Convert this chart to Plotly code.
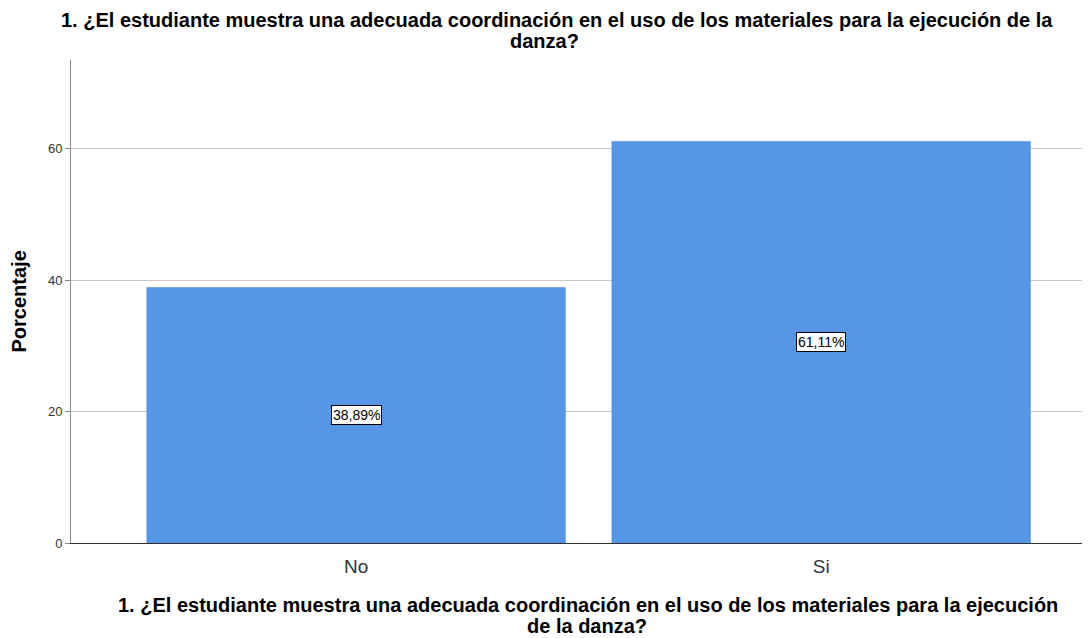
import plotly.graph_objects as go

categories = ["No", "Si"]
percentages = [38.89, 61.11]
label_texts = ["38,89%", "61,11%"]
y_ticks = [0, 20, 40, 60]

title_lines = [
    "1. ¿El estudiante muestra una adecuada coordinación en el uso de los materiales para la ejecución de la",
    "danza?",
]
xtitle_lines = [
    "1. ¿El estudiante muestra una adecuada coordinación en el uso de los materiales para la ejecución",
    "de la danza?",
]
ytitle = "Porcentaje"

FONT = "Liberation Sans, Arial, sans-serif"

fig = go.Figure()
fig.add_trace(go.Bar(
    x=categories, y=percentages, width=0.9,
    marker=dict(color="#5596E6", line=dict(color="#4a86d0", width=0.5)),
    hoverinfo="skip",
))

for c, v, t in zip(categories, percentages, label_texts):
    fig.add_annotation(
        x=c, y=v / 2, text=t, showarrow=False,
        font=dict(family=FONT, size=14, color="black"),
        bgcolor="white", bordercolor="black", borderwidth=1, borderpad=1,
    )

# Title lines (above plot)
for txt, xpos, ypos in zip(title_lines, [0.4774, 0.465], [1.0818, 1.0394]):
    fig.add_annotation(
        text="<b>" + txt + "</b>", xref="paper", yref="paper", x=xpos, y=ypos,
        xanchor="center", yanchor="middle", showarrow=False,
        font=dict(family=FONT, size=20, color="black"),
    )
# X-axis title lines (below plot)
for txt, xpos, ypos in zip(xtitle_lines, [0.507, 0.506], [-0.1284, -0.1718]):
    fig.add_annotation(
        text="<b>" + txt + "</b>", xref="paper", yref="paper", x=xpos, y=ypos,
        xanchor="center", yanchor="middle", showarrow=False,
        font=dict(family=FONT, size=20, color="black"),
    )
# Y-axis title
fig.add_annotation(
    text="<b>" + ytitle + "</b>", xref="paper", yref="paper", x=-0.052, y=0.5,
    xanchor="center", yanchor="middle", textangle=-90, showarrow=False,
    font=dict(family=FONT, size=20, color="black"),
)

fig.update_layout(
    width=1082, height=630,
    margin=dict(l=63, r=0, t=52, b=95),
    paper_bgcolor="white", plot_bgcolor="white",
    showlegend=False,
    font=dict(family=FONT),
)

fig.update_xaxes(
    range=[-0.613, 1.578],
    automargin=False,
    showline=True, linecolor="#333333", linewidth=1,
    ticks="", showgrid=False,
    ticklabelstandoff=6,
    tickfont=dict(family=FONT, size=19, color="#333333"),
)
fig.update_yaxes(
    range=[0, 73.5],
    automargin=False,
    tickvals=y_ticks,
    showline=True, linecolor="#888888", linewidth=1,
    ticks="outside", ticklen=5, tickcolor="#888888",
    showgrid=True, gridcolor="#c8c8c8", gridwidth=1,
    zeroline=False,
    tickfont=dict(family=FONT, size=13, color="#333333"),
)

fig.write_html("out.html")
